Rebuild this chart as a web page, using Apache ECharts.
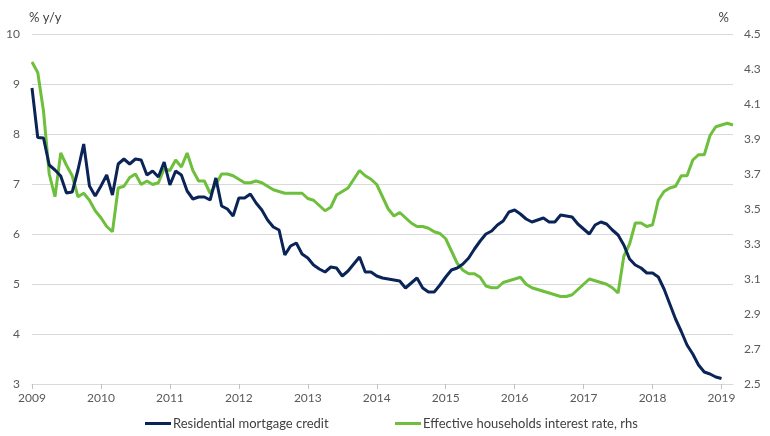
<!DOCTYPE html>
<html>
<head>
<meta charset="utf-8">
<script src="https://cdn.jsdelivr.net/npm/echarts@6/dist/echarts.min.js"></script>
<style>
html,body{margin:0;padding:0;background:#fff;}
#c{width:770px;height:436px;}
</style>
</head>
<body>
<div id="c"></div>
<script>
// Monthly categories Jan 2009 .. Mar 2019
const months = [];
for (let y = 2009; y <= 2019; y++) {
  for (let m = 1; m <= 12; m++) {
    if (y === 2019 && m > 3) break;
    months.push(y + '-' + String(m).padStart(2, '0'));
  }
}

const seriesNames = ['Residential mortgage credit', 'Effective households interest rate, rhs'];

// Residential mortgage credit, % y/y (left axis), Jan 2009 .. Jan 2019
const mortgageCredit = [
  8.92, 7.93, 7.92, 7.38, 7.28, 7.16, 6.82, 6.84, 7.28, 7.80, 6.96, 6.76,
  6.96, 7.18, 6.78, 7.40, 7.50, 7.40, 7.50, 7.48, 7.18, 7.26, 7.14, 7.44,
  6.98, 7.26, 7.18, 6.86, 6.70, 6.74, 6.74, 6.68, 7.12, 6.56, 6.50, 6.36,
  6.72, 6.72, 6.80, 6.62, 6.48, 6.28, 6.14, 6.08, 5.58, 5.76, 5.82, 5.60,
  5.52, 5.38, 5.30, 5.24, 5.34, 5.32, 5.16, 5.26, 5.40, 5.54, 5.24, 5.24,
  5.16, 5.12, 5.10, 5.08, 5.06, 4.92, 5.02, 5.12, 4.92, 4.84, 4.84, 4.98,
  5.14, 5.28, 5.32, 5.40, 5.52, 5.70, 5.86, 6.00, 6.06, 6.18, 6.26, 6.44,
  6.48, 6.40, 6.30, 6.24, 6.28, 6.32, 6.24, 6.24, 6.38, 6.36, 6.34, 6.20,
  6.10, 6.00, 6.18, 6.24, 6.20, 6.08, 5.98, 5.78, 5.50, 5.38, 5.32, 5.22,
  5.22, 5.14, 4.90, 4.60, 4.30, 4.05, 3.78, 3.60, 3.38, 3.24, 3.20, 3.14,
  3.11
];

// Effective households interest rate, % (right axis), Jan 2009 .. Mar 2019
const interestRate = [
  4.34, 4.28, 4.06, 3.70, 3.57, 3.82, 3.75, 3.69, 3.57, 3.59, 3.55, 3.49,
  3.45, 3.40, 3.37, 3.62, 3.63, 3.68, 3.70, 3.64, 3.66, 3.64, 3.65, 3.73,
  3.72, 3.78, 3.74, 3.82, 3.72, 3.66, 3.66, 3.59, 3.64, 3.70, 3.70, 3.69,
  3.67, 3.65, 3.65, 3.66, 3.65, 3.63, 3.61, 3.60, 3.59, 3.59, 3.59, 3.59,
  3.56, 3.55, 3.52, 3.49, 3.51, 3.58, 3.60, 3.62, 3.67, 3.72, 3.69, 3.67,
  3.64, 3.57, 3.50, 3.46, 3.48, 3.45, 3.42, 3.40, 3.40, 3.39, 3.37, 3.36,
  3.33, 3.26, 3.19, 3.15, 3.13, 3.13, 3.11, 3.06, 3.05, 3.05, 3.08, 3.09,
  3.10, 3.11, 3.07, 3.05, 3.04, 3.03, 3.02, 3.01, 3.00, 3.00, 3.01, 3.04,
  3.07, 3.10, 3.09, 3.08, 3.07, 3.05, 3.02, 3.23, 3.30, 3.42, 3.42, 3.40,
  3.41, 3.55, 3.60, 3.62, 3.63, 3.69, 3.69, 3.78, 3.81, 3.81, 3.92, 3.97,
  3.98, 3.99, 3.98
];

const leftTicks = { min: 3, max: 10, interval: 1 };
const rightTicks = { min: 2.5, max: 4.5, step: 0.2 };

const FONT = 'Lato';
const navy = '#0b2458';
const green = '#6dbf3c';

const chart = echarts.init(document.getElementById('c'), null, { renderer: 'canvas' });
const isYearStart = (idx) => idx % 12 === 0;

chart.setOption({
  animation: false,
  backgroundColor: '#ffffff',
  textStyle: { fontFamily: FONT },
  grid: { left: 32, right: 37, top: 34, bottom: 52, containLabel: false },
  legend: [
    {
      data: [seriesNames[0]], left: 140, top: 412, icon: 'rect',
      itemWidth: 26, itemHeight: 3, itemGap: 2,
      textStyle: { fontFamily: FONT, fontSize: 13, color: '#404040', padding: [0, 0, 0, -3] }
    },
    {
      data: [seriesNames[1]], left: 390, top: 412, icon: 'rect',
      itemWidth: 26, itemHeight: 3, itemGap: 2,
      textStyle: { fontFamily: FONT, fontSize: 13, color: '#404040', padding: [0, 0, 0, -3] }
    }
  ],
  xAxis: {
    type: 'category',
    data: months,
    boundaryGap: false,
    axisLine: { lineStyle: { color: '#d9d9d9', width: 1 } },
    axisTick: { show: true, interval: isYearStart, length: 5, lineStyle: { color: '#bfbfbf' } },
    axisLabel: {
      interval: isYearStart,
      formatter: (v) => v.slice(0, 4),
      color: '#595959', fontFamily: FONT, fontSize: 12, margin: 8
    },
    splitLine: { show: false }
  },
  yAxis: [
    {
      type: 'value',
      min: leftTicks.min, max: leftTicks.max, interval: leftTicks.interval,
      name: '% y/y',
      nameLocation: 'end',
      nameGap: 10,
      nameTextStyle: { color: '#404040', fontFamily: FONT, fontSize: 13, align: 'left', padding: [0, 0, 0, -3] },
      axisLine: { show: false },
      axisTick: { show: false },
      axisLabel: { color: '#595959', fontFamily: FONT, fontSize: 12, margin: 12 },
      splitLine: { show: true, lineStyle: { color: '#d9d9d9', width: 1 } }
    },
    {
      type: 'value',
      position: 'right',
      min: rightTicks.min, max: rightTicks.max, interval: 0.1,
      name: '%',
      nameLocation: 'end',
      nameGap: 10,
      nameTextStyle: { color: '#404040', fontFamily: FONT, fontSize: 13, align: 'right', padding: [0, 4, 0, 0] },
      axisLine: { show: false },
      axisTick: { show: false },
      axisLabel: {
        color: '#595959', fontFamily: FONT, fontSize: 12, margin: 11,
        formatter: (v) => {
          const k = Math.round((v - rightTicks.min) / rightTicks.step * 1000) / 1000;
          return Number.isInteger(k) ? v.toFixed(1) : '';
        }
      },
      splitLine: { show: false }
    }
  ],
  series: [
    {
      name: seriesNames[0], type: 'line', yAxisIndex: 0,
      data: mortgageCredit, showSymbol: false, symbol: 'none',
      lineStyle: { color: navy, width: 3 }, itemStyle: { color: navy },
      z: 3
    },
    {
      name: seriesNames[1], type: 'line', yAxisIndex: 1,
      data: interestRate, showSymbol: false, symbol: 'none',
      lineStyle: { color: green, width: 3 }, itemStyle: { color: green },
      z: 2
    }
  ]
});
</script>
</body>
</html>
